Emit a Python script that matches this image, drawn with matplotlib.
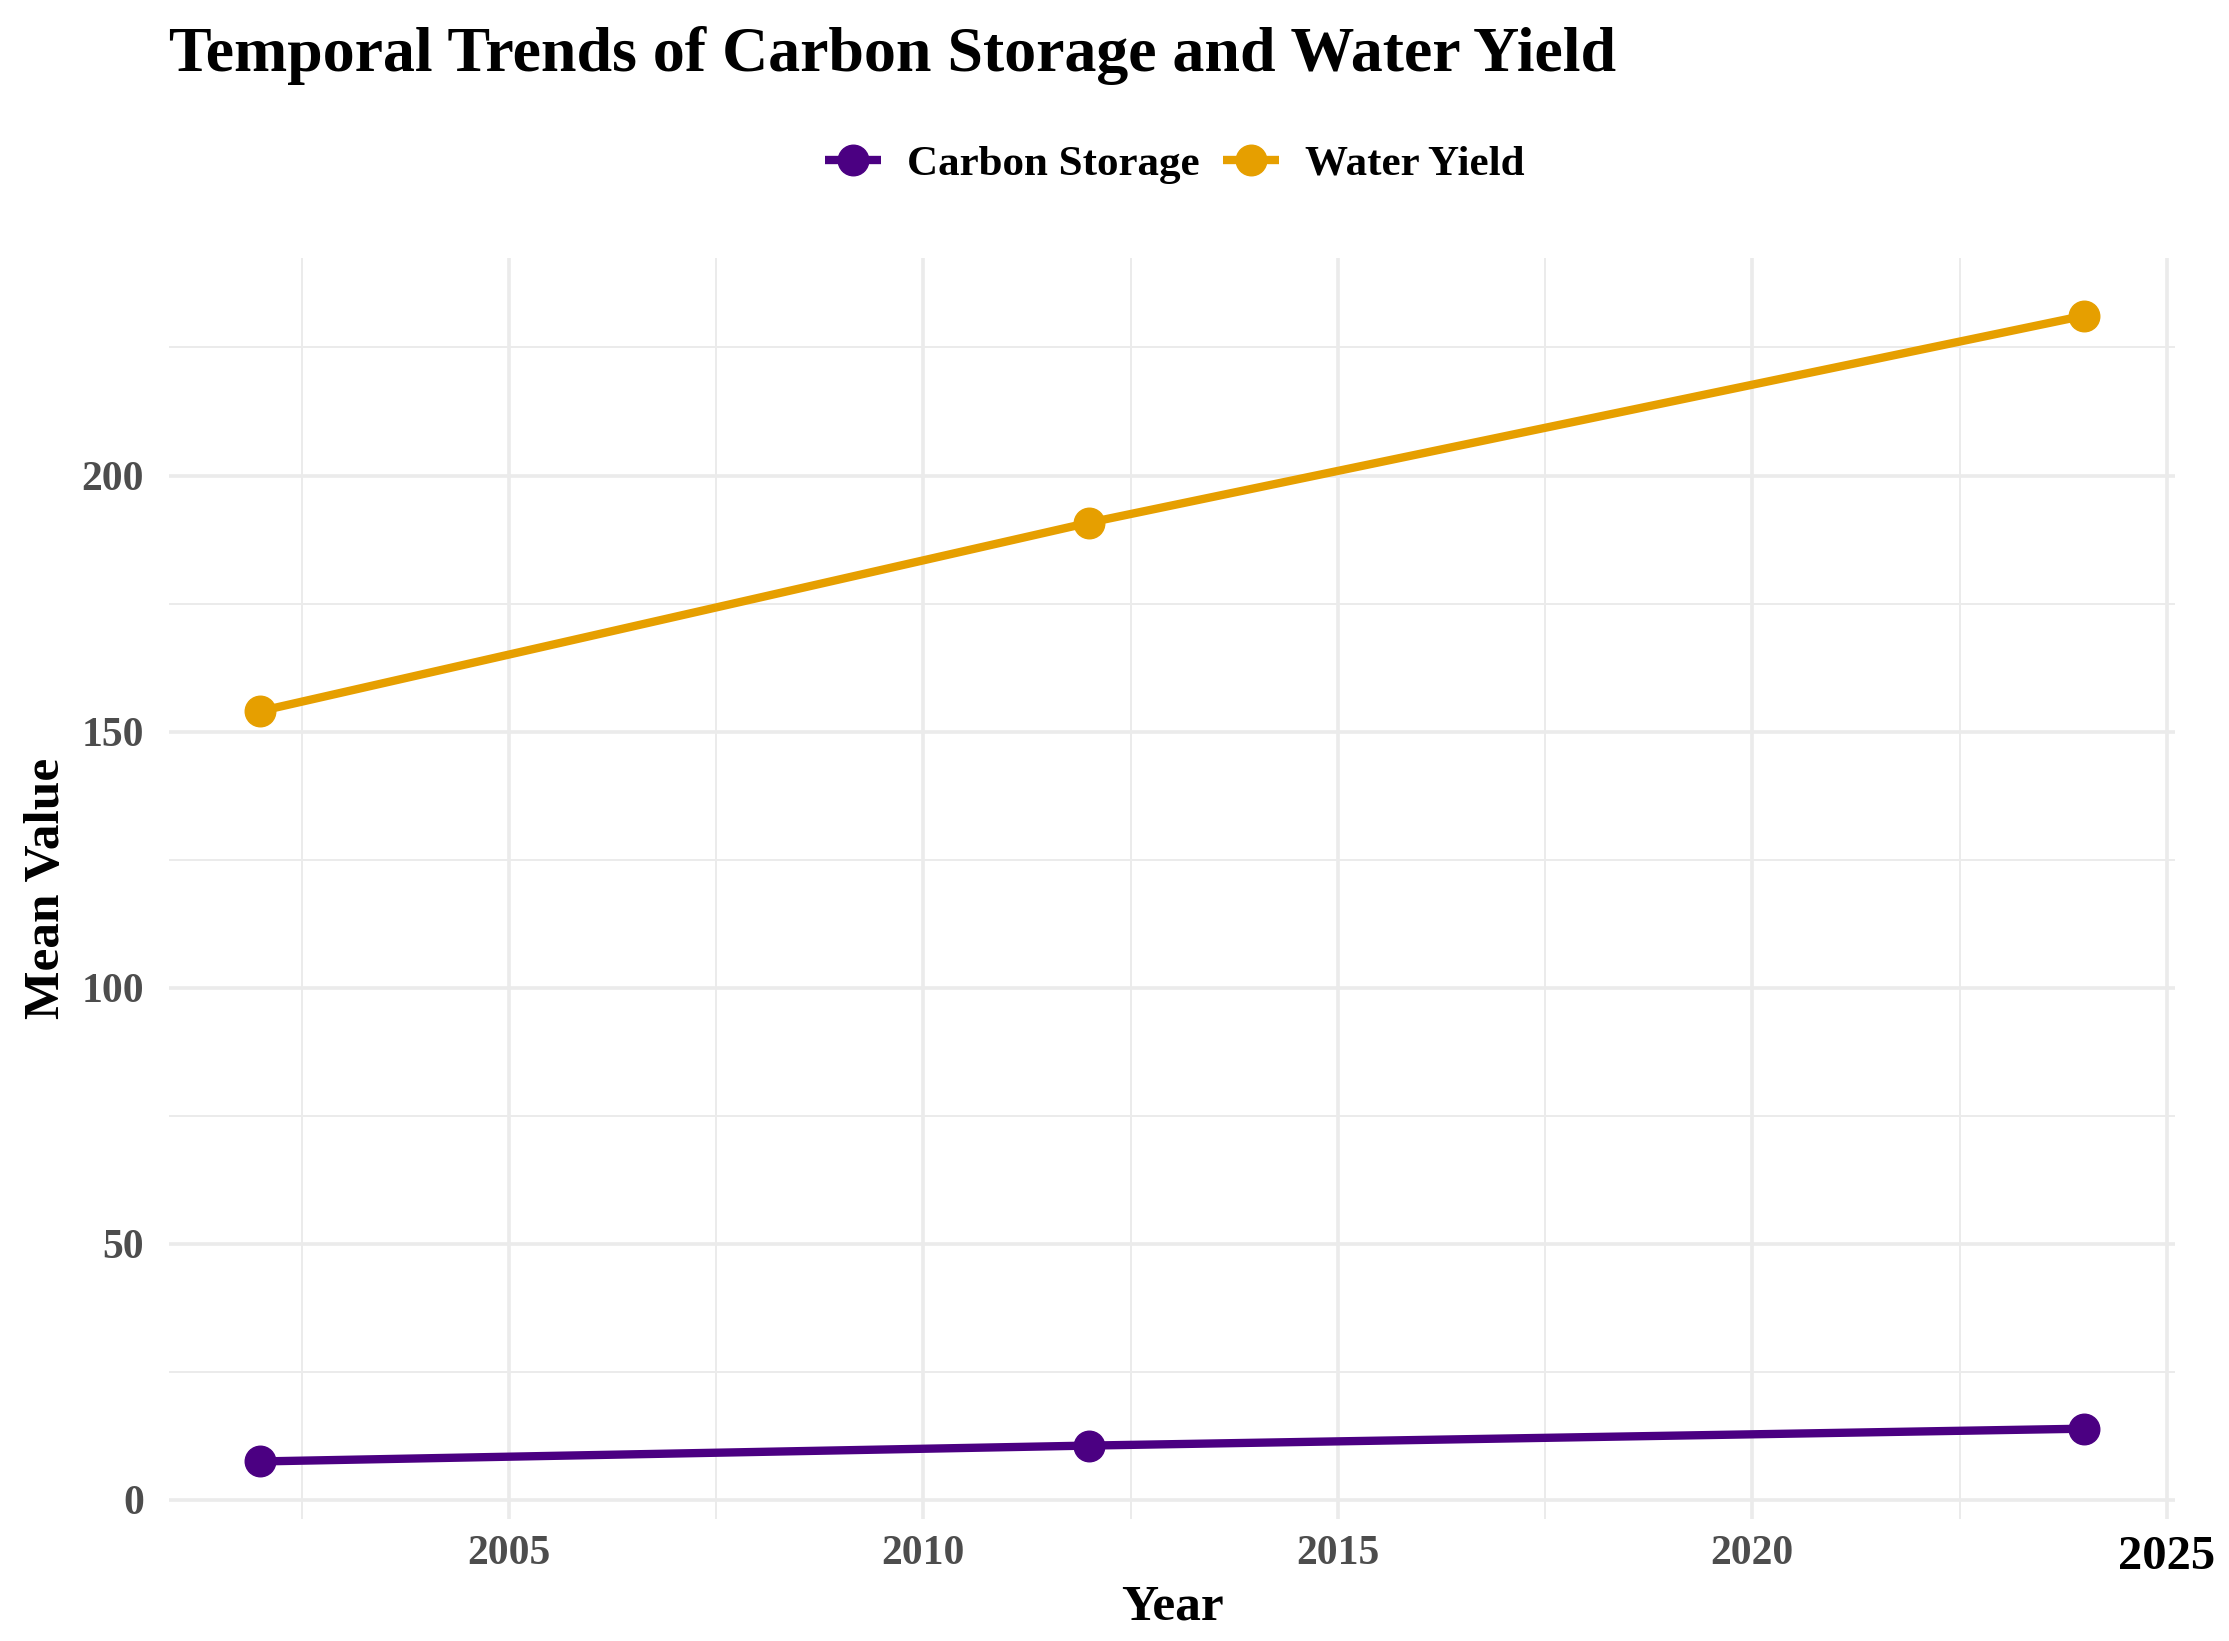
import numpy as np
import matplotlib
matplotlib.use("Agg")
import matplotlib.pyplot as plt
from matplotlib.ticker import MultipleLocator

years = [2002, 2012, 2024]
carbon_storage = [7.5, 10.6, 13.9]
water_yield = [154.0, 190.8, 231.2]
series_names = ["Carbon Storage", "Water Yield"]
series_colors = ["#4B0082", "#E69F00"]
x_ticks = [2005, 2010, 2015, 2020, 2025]
y_ticks = [0, 50, 100, 150, 200]

plt.rcParams["font.family"] = ["Liberation Serif", "DejaVu Serif"]
plt.rcParams["font.weight"] = "bold"

fig = plt.figure(figsize=(22.29, 16.41), dpi=100)
ax = fig.add_axes([0.0758, 0.0745, 0.9, 0.768])

for name, vals, col in zip(series_names, [carbon_storage, water_yield], series_colors):
    ax.plot(years, vals, color=col, lw=6, marker="o", ms=22, label=name,
            solid_capstyle="butt", zorder=3)

# ggplot-like expansion of 5%
xr = max(years) - min(years)
ax.set_xlim(min(years) - 0.05 * xr, max(years) + 0.05 * xr)
all_y = carbon_storage + water_yield
yr = max(all_y) - min(all_y)
ax.set_ylim(min(all_y) - 0.05 * yr, max(all_y) + 0.05 * yr)

ax.set_xticks(x_ticks)
ax.set_yticks(y_ticks)
ax.yaxis.set_minor_locator(MultipleLocator(25))
ax.set_xticks([2002.5, 2007.5, 2012.5, 2017.5, 2022.5], minor=True)

ax.grid(which="major", color="#ebebeb", lw=2.6)
ax.grid(which="minor", color="#ebebeb", lw=1.4)
ax.set_axisbelow(True)
for s in ax.spines.values():
    s.set_visible(False)
ax.tick_params(which="both", length=0)
ax.tick_params(axis="both", labelsize=30, labelcolor="#4d4d4d")
ax.tick_params(axis="x", pad=12)
ax.tick_params(axis="y", pad=18)

# last x tick label appears black and larger in the source
for lbl in ax.get_xticklabels():
    lbl.set_fontweight("bold")
    if lbl.get_text() == "2025":
        lbl.set_color("black")
        lbl.set_fontsize(35)
for lbl in ax.get_yticklabels():
    lbl.set_fontweight("bold")

ax.set_xlabel("Year", fontsize=37, fontweight="bold", labelpad=4)
ax.set_ylabel("Mean Value", fontsize=37, fontweight="bold", labelpad=8)

fig.text(0.0758, 0.966, "Temporal Trends of Carbon Storage and Water Yield",
         fontsize=46, fontweight="bold", ha="left", va="center")

fig.legend(loc="center", bbox_to_anchor=(0.527, 0.9), ncol=2, frameon=False,
           handlelength=1.3, handletextpad=0.6, columnspacing=0.55,
           prop={"weight": "bold", "size": 31})

fig.savefig("out.png", dpi=100, facecolor="white")
